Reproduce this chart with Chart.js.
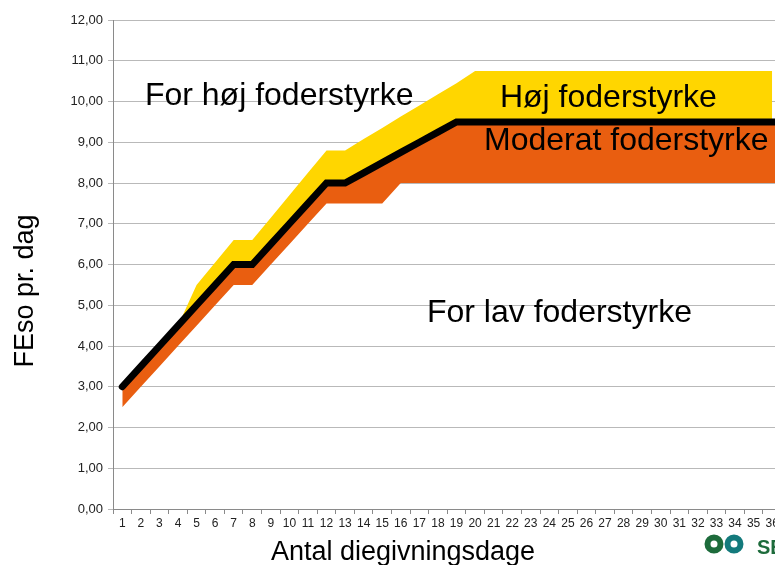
<!DOCTYPE html>
<html>
<head>
<meta charset="utf-8">
<script src="https://cdn.jsdelivr.net/npm/chart.js@4.4.1/dist/chart.umd.min.js"></script>
<style>
    html, body { margin: 0; padding: 0; background: #fff; overflow: hidden; }
    #wrap { width: 805px; height: 565px; }
</style>
</head>
<body>
<div id="wrap"><canvas id="chart" width="805" height="565"></canvas></div>
<script>
const DAYS = ['1', '2', '3', '4', '5', '6', '7', '8', '9', '10', '11', '12', '13', '14', '15', '16', '17', '18', '19',
    '20', '21', '22', '23', '24', '25', '26', '27', '28', '29', '30', '31', '32', '33', '34', '35', '36', '37'];

// anbefalet foderstyrke (sort linje)
const NORM = [3.0, 3.5, 4.0, 4.5, 5.0, 5.5, 6.0, 6.0, 6.5, 7.0, 7.5, 8.0, 8.0, 8.25, 8.5, 8.75, 9.0, 9.25, 9.5,
    9.5, 9.5, 9.5, 9.5, 9.5, 9.5, 9.5, 9.5, 9.5, 9.5, 9.5, 9.5, 9.5, 9.5, 9.5, 9.5, 9.5, 9.5];

// øvre grænse for høj foderstyrke (gul)
const HIGH = [3.0, 3.5, 4.0, 4.5, 5.5, 6.05, 6.6, 6.6, 7.15, 7.7, 8.25, 8.8, 8.8, 9.08, 9.35, 9.63, 9.9, 10.18, 10.45,
    10.75, 10.75, 10.75, 10.75, 10.75, 10.75, 10.75, 10.75, 10.75, 10.75, 10.75, 10.75, 10.75, 10.75, 10.75, 10.75, 10.75];

// nedre grænse for moderat foderstyrke (orange)
const LOW = [2.5, 3.0, 3.5, 4.0, 4.5, 5.0, 5.5, 5.5, 6.0, 6.5, 7.0, 7.5, 7.5, 7.5, 7.5, 8.0, 8.0, 8.0, 8.0,
    8.0, 8.0, 8.0, 8.0, 8.0, 8.0, 8.0, 8.0, 8.0, 8.0, 8.0, 8.0, 8.0, 8.0, 8.0, 8.0, 8.0, 8.0];

const Y_TICKS = [0, 1, 2, 3, 4, 5, 6, 7, 8, 9, 10, 11, 12];

const YELLOW = '#ffd600';
const ORANGE = '#e95e10';
const FONT = '"Liberation Sans", Arial, sans-serif';

// tekster i plotområdet: [tekst, dag-indeks, FEso (grundlinje)]
const NOTES = [
    ['For høj foderstyrke', 1.22, 9.91],
    ['Høj foderstyrke', 20.34, 9.87],
    ['Moderat foderstyrke', 19.48, 8.81],
    ['For lav foderstyrke', 16.41, 4.6]
];

const notesPlugin = {
    id: 'notes',
    afterDatasetsDraw(chart) {
        const ctx = chart.ctx;
        const xs = chart.scales.x;
        const ys = chart.scales.y;
        ctx.save();
        ctx.fillStyle = '#000';
        ctx.font = '32px ' + FONT;
        ctx.textAlign = 'left';
        ctx.textBaseline = 'alphabetic';
        NOTES.forEach(([text, day, val]) => {
            ctx.fillText(text, xs.getPixelForValue(day), ys.getPixelForValue(val));
        });
        ctx.restore();
    },
    afterDraw(chart) {
        const ctx = chart.ctx;
        ctx.save();
        ctx.fillStyle = '#000';
        ctx.font = '27px ' + FONT;
        ctx.textAlign = 'center';
        ctx.textBaseline = 'alphabetic';
        ctx.fillText('Antal diegivningsdage', 403, 560);

        ctx.translate(33, 291);
        ctx.rotate(-Math.PI / 2);
        ctx.fillText('FEso pr. dag', 0, 0);
        ctx.restore();

        // logo
        ctx.save();
        ctx.lineWidth = 6;
        ctx.strokeStyle = '#1d6b3b';
        ctx.beginPath();
        ctx.arc(714, 544, 6.5, 0, Math.PI * 2);
        ctx.stroke();
        ctx.strokeStyle = '#137a7c';
        ctx.beginPath();
        ctx.arc(734, 544, 6.5, 0, Math.PI * 2);
        ctx.stroke();
        ctx.fillStyle = '#1d6b3b';
        ctx.font = 'bold 20px ' + FONT;
        ctx.textAlign = 'left';
        ctx.fillText('SEGES', 757, 554);
        ctx.restore();
    }
};

new Chart(document.getElementById('chart'), {
    type: 'line',
    data: {
        labels: DAYS,
        datasets: [
            {
                label: 'Norm',
                data: NORM,
                borderColor: '#000',
                borderWidth: 7,
                borderCapStyle: 'round',
                borderJoinStyle: 'miter',
                pointRadius: 0,
                fill: false,
                tension: 0
            },
            {
                label: 'Høj',
                data: HIGH,
                borderWidth: 0,
                borderColor: YELLOW,
                backgroundColor: YELLOW,
                pointRadius: 0,
                fill: 0,
                tension: 0
            },
            {
                label: 'Moderat',
                data: LOW,
                borderWidth: 0,
                borderColor: ORANGE,
                backgroundColor: ORANGE,
                pointRadius: 0,
                fill: 0,
                tension: 0
            }
        ]
    },
    options: {
        responsive: false,
        animation: false,
        layout: {
            padding: { top: 20, right: 5, left: 0, bottom: 0 }
        },
        plugins: {
            legend: { display: false },
            tooltip: { enabled: false }
        },
        scales: {
            x: {
                offset: true,
                grid: {
                    offset: true,
                    drawOnChartArea: false,
                    drawTicks: true,
                    tickLength: 5,
                    color: '#8a8a8a'
                },
                border: { color: '#8a8a8a' },
                ticks: {
                    autoSkip: false,
                    maxRotation: 0,
                    padding: 2,
                    color: '#222',
                    font: { family: FONT, size: 12 }
                },
                afterFit(scale) {
                    scale.height = 56;
                }
            },
            y: {
                min: Y_TICKS[0],
                max: Y_TICKS[Y_TICKS.length - 1],
                afterBuildTicks(scale) {
                    scale.ticks = Y_TICKS.map(v => ({ value: v }));
                },
                grid: {
                    color: '#b9b9b9',
                    tickLength: 5
                },
                border: { color: '#8a8a8a' },
                ticks: {
                    padding: 5,
                    color: '#222',
                    font: { family: FONT, size: 13 },
                    callback: (v) => Number(v).toFixed(2).replace('.', ',')
                },
                afterFit(scale) {
                    scale.width = 113;
                }
            }
        }
    },
    plugins: [notesPlugin]
});
</script>
</body>
</html>
